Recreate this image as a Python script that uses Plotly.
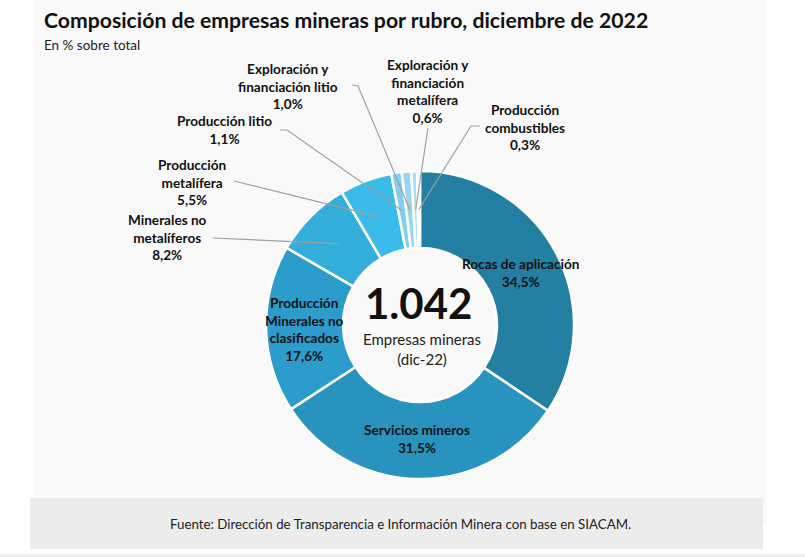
import math
import plotly.graph_objects as go

# ---- data ----
categories = [
    "Rocas de aplicación",
    "Servicios mineros",
    "Producción Minerales no clasificados",
    "Minerales no metalíferos",
    "Producción metalífera",
    "Producción litio",
    "Exploración y financiación litio",
    "Exploración y financiación metalífera",
    "Producción combustibles",
]
shares = [34.5, 31.5, 17.6, 8.2, 5.5, 1.1, 1.0, 0.6, 0.3]
label_texts = [
    "Rocas de aplicación<br>34,5%",
    "Servicios mineros<br>31,5%",
    "Producción<br>Minerales no<br>clasificados<br>17,6%",
    "Minerales no<br>metalíferos<br>8,2%",
    "Producción<br>metalífera<br>5,5%",
    "Producción litio<br>1,1%",
    "Exploración y<br>financiación litio<br>1,0%",
    "Exploración y<br>financiación<br>metalífera<br>0,6%",
    "Producción<br>combustibles<br>0,3%",
]
total_companies = "1.042"
center_caption = "Empresas mineras<br>(dic-22)"

colors = ["#2480a3", "#2993bf", "#2c9ccb", "#33aedb", "#3bbbe9",
          "#85cdef", "#9ad6f3", "#abddf5", "#c6e8f8"]

W, H = 805, 557
CX, CY, R = 420, 325, 154
HOLE = 0.5


def px(x):
    return x / W


def py(y):
    return 1 - y / H


fig = go.Figure()

fig.add_trace(go.Pie(
    labels=categories,
    values=shares,
    sort=False,
    direction="clockwise",
    rotation=0,
    hole=HOLE,
    textinfo="none",
    hoverinfo="label+percent",
    marker=dict(colors=colors, line=dict(color="white", width=2.5)),
    domain=dict(x=[px(CX - R), px(CX + R)], y=[py(CY + R), py(CY - R)]),
    showlegend=False,
))

# ---- background panels ----
shapes = [
    dict(type="rect", xref="paper", yref="paper", x0=px(33), x1=px(766),
         y0=py(523), y1=py(0), fillcolor="#f9f9f9", line_width=0, layer="below"),
    dict(type="rect", xref="paper", yref="paper", x0=px(30), x1=px(763),
         y0=py(549), y1=py(498), fillcolor="#ececec", line_width=0, layer="below"),
    dict(type="rect", xref="paper", yref="paper", x0=0, x1=1,
         y0=py(557), y1=py(554), fillcolor="#eeeeee", line_width=0, layer="below"),
]

# ---- leader lines: end point at mid-ring of each slice, computed from the data ----
tot = sum(shares)
cum = 0
mid_pts = []
r_mid = R * (1 + HOLE) / 2
for v in shares:
    a = (cum + v / 2) / tot * 2 * math.pi
    cum += v
    mid_pts.append((CX + r_mid * math.sin(a), CY - r_mid * math.cos(a)))

label_pos = {
    0: (520, 273), 1: (417, 439), 2: (304, 329),
    3: (167, 237), 4: (192, 182), 5: (224, 130),
    6: (288, 86), 7: (428, 91), 8: (525, 127),
}
leader_start = {
    3: [(213, 238)],
    4: [(234, 181)],
    5: [(280, 130), (287, 130)],
    6: [(352, 85), (358, 86)],
    7: [(428, 128)],
    8: [(480, 126), (471, 126)],
}
for i, pts in leader_start.items():
    ex, ey = mid_pts[i]
    path = "M " + " L ".join(f"{px(x)},{py(y)}" for x, y in pts + [(ex, ey)])
    shapes.append(dict(type="path", xref="paper", yref="paper", path=path,
                       line=dict(color="#a0a0a0", width=1.2)))

FONT = "Lato"
annotations = []
for i, txt in enumerate(label_texts):
    x, y = label_pos[i]
    annotations.append(dict(
        x=px(x), y=py(y), xref="paper", yref="paper", text=f"<b>{txt}</b>",
        showarrow=False, xanchor="center", yanchor="middle", align="center",
        font=dict(family=FONT, size=13.6, color="#111111"),
    ))

annotations += [
    dict(x=px(419), y=py(303), xref="paper", yref="paper",
         text=f"<b>{total_companies}</b>", showarrow=False,
         xanchor="center", yanchor="middle",
         font=dict(family=FONT, size=42, color="#111111")),
    dict(x=px(422), y=py(349), xref="paper", yref="paper",
         text=center_caption, showarrow=False, xanchor="center", yanchor="middle",
         align="center", font=dict(family=FONT, size=15, color="#222222")),
    dict(x=px(42), y=py(20), xref="paper", yref="paper",
         text="<b>Composición de empresas mineras por rubro, diciembre de 2022</b>",
         showarrow=False, xanchor="left", yanchor="middle",
         font=dict(family=FONT, size=21.2, color="#111111")),
    dict(x=px(42), y=py(45), xref="paper", yref="paper",
         text="En % sobre total", showarrow=False, xanchor="left", yanchor="middle",
         font=dict(family=FONT, size=13.5, color="#222222")),
    dict(x=px(400), y=py(524), xref="paper", yref="paper",
         text="Fuente: Dirección de Transparencia e Información Minera con base en SIACAM.",
         showarrow=False, xanchor="center", yanchor="middle",
         font=dict(family=FONT, size=13.3, color="#222222")),
]

fig.update_layout(
    width=W, height=H,
    margin=dict(l=0, r=0, t=0, b=0),
    paper_bgcolor="white",
    plot_bgcolor="white",
    shapes=shapes,
    annotations=annotations,
)

fig.write_html("out.html", config={"displayModeBar": False},
               post_script="document.body.style.margin='0';")
